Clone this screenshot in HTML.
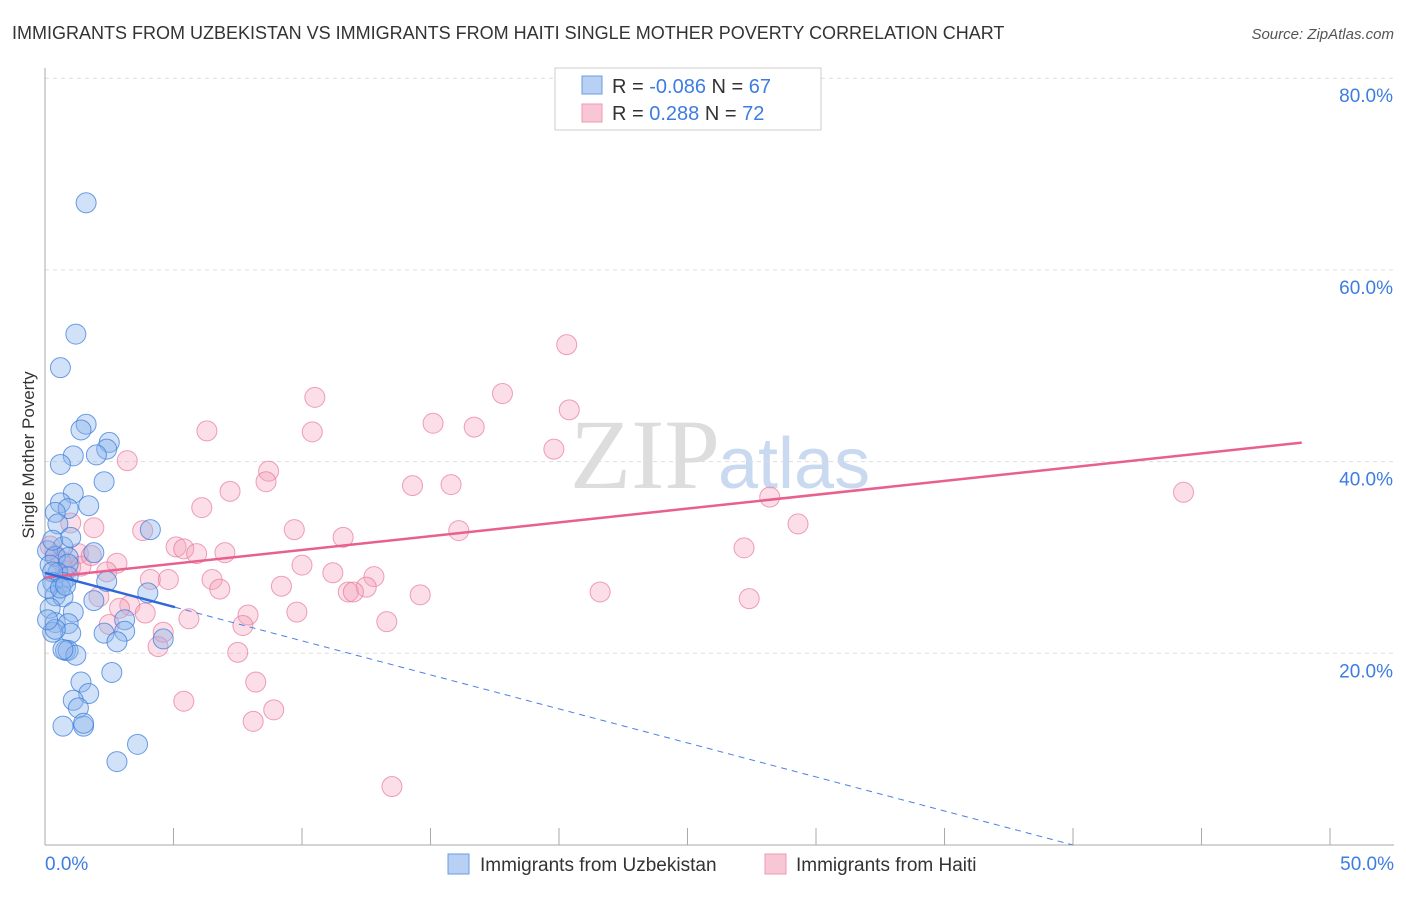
<!DOCTYPE html>
<html><head><meta charset="utf-8"><style>
body{margin:0;background:#fff;font-family:"Liberation Sans",sans-serif;}
#wrap{position:relative;width:1406px;height:892px;}
</style></head><body>
<div id="wrap">
<svg id="svg" width="1406" height="892" xmlns="http://www.w3.org/2000/svg">
<text x="12" y="39" font-size="18" fill="#333">IMMIGRANTS FROM UZBEKISTAN VS IMMIGRANTS FROM HAITI SINGLE MOTHER POVERTY CORRELATION CHART</text>
<text x="1394" y="39" font-size="15" fill="#555" font-style="italic" text-anchor="end">Source: ZipAtlas.com</text>
<text x="34" y="455" font-size="17" fill="#333" text-anchor="middle" transform="rotate(-90 34 455)">Single Mother Poverty</text>
<text x="720" y="488" font-size="100" fill="#ddd" text-anchor="end" font-family="Liberation Serif,serif">ZIP</text>
<text x="718" y="488" font-size="72" fill="#c9d9ef">atlas</text>
<g id="grid"></g><g id="pts"></g><g id="lines"></g>
<g>
<rect x="555" y="68" width="266" height="62" fill="#fff" stroke="#ccc"/>
<rect x="582" y="76" width="20" height="18" fill="#b7d0f3" stroke="#6a9ee6"/>
<rect x="582" y="104" width="20" height="18" fill="#f9c6d5" stroke="#ee9ab5"/>
<text x="612" y="93" font-size="20" fill="#333">R = <tspan fill="#3d7de0">-0.086</tspan>   N = <tspan fill="#3d7de0">67</tspan></text>
<text x="612" y="120" font-size="20" fill="#333">R =   <tspan fill="#3d7de0">0.288</tspan>   N = <tspan fill="#3d7de0">72</tspan></text>
</g>
<g>
<rect x="448" y="854" width="21" height="20" fill="#b7d0f3" stroke="#6a9ee6"/>
<text x="480" y="871" font-size="19" fill="#333">Immigrants from Uzbekistan</text>
<rect x="765" y="854" width="21" height="20" fill="#f9c6d5" stroke="#ee9ab5"/>
<text x="796" y="871" font-size="19" fill="#333">Immigrants from Haiti</text>
</g>
</svg></div>
<script>
const yTicks=[20,40,60,80];
const xTickLabels=["0.0%","50.0%"];
const blueX=[1.6,1.2,0.6,1.6,1.4,2.5,2.4,2.0,1.1,0.6,2.3,1.1,0.6,1.7,0.9,0.4,0.5,4.1,0.7,1.9,0.1,0.4,0.9,0.2,0.9,0.5,0.9,2.4,0.7,0.3,1.9,4.0,0.4,0.7,0.2,1.1,0.4,3.1,0.9,1.0,0.3,2.3,3.1,2.8,4.6,0.8,0.9,1.2,0.7,2.6,1.4,1.7,1.1,1.3,0.7,1.5,1.5,3.6,2.8,0.3,0.1,0.4,0.1,0.6,0.3,1.0,0.8];
const blueY=[67.0,53.3,49.8,43.9,43.3,42.0,41.3,40.7,40.6,39.7,37.9,36.7,35.7,35.4,35.1,34.7,33.5,32.9,31.1,30.5,30.7,30.1,30.0,29.2,29.3,28.4,28.0,27.5,27.4,27.4,25.5,26.3,26.0,25.9,24.7,24.3,23.2,23.5,23.1,22.1,22.2,22.1,22.3,21.2,21.5,20.3,20.3,19.8,20.4,18.0,17.0,15.8,15.1,14.3,12.4,12.4,12.7,10.5,8.7,28.5,26.8,22.5,23.5,26.8,31.8,32.1,27.1];
const pinkX=[20.3,17.8,10.5,20.4,15.1,16.7,6.3,10.4,19.8,3.2,8.7,8.6,7.2,14.3,15.8,6.1,44.3,28.2,29.3,1.0,1.9,16.1,9.7,3.8,11.6,5.1,5.4,5.9,7.0,27.2,1.3,2.8,10.0,2.4,4.1,4.8,6.5,12.8,11.2,9.2,6.8,12.5,11.8,12.0,14.6,21.6,27.4,2.1,3.3,2.9,7.9,9.8,5.6,3.9,7.7,13.3,2.5,4.6,4.4,7.5,8.2,5.4,8.9,8.1,13.5,0.6,0.4,0.2,0.8,1.0,1.4,1.8];
const pinkY=[52.2,47.1,46.7,45.4,44.0,43.6,43.2,43.1,41.3,40.1,39.0,37.9,36.9,37.5,37.6,35.2,36.8,36.3,33.5,33.6,33.1,32.8,32.9,32.8,32.1,31.1,30.9,30.4,30.5,31.0,30.4,29.4,29.2,28.5,27.7,27.7,27.7,28.0,28.4,27.0,26.7,26.9,26.4,26.4,26.1,26.4,25.7,25.9,25.0,24.7,24.0,24.3,23.6,24.2,22.9,23.3,23.0,22.2,20.7,20.1,17.0,15.0,14.1,12.9,6.1,29.7,30.2,31.2,28.6,29.0,29.1,30.2];
const pinkTrend=[27.9,0.288];
const blueTrend=[28.4,-0.71];
const NS='http://www.w3.org/2000/svg';
const X=v=>45+v*25.7, Y=v=>845-v*9.585;
function mk(t,a,p){const e=document.createElementNS(NS,t);for(const k in a)e.setAttribute(k,a[k]);p.appendChild(e);return e;}
const grid=document.getElementById('grid');
for(const t of yTicks){
 const l=mk('line',{x1:45,x2:1394,y1:Y(t),y2:Y(t),stroke:'#ddd','stroke-dasharray':'4 4'},grid);
 
 
 const tx=mk('text',{x:1393,y:Y(t)+24,'font-size':19,fill:'#3d7de0','text-anchor':'end'},grid);
 tx.textContent=t.toFixed(1)+'%';
 
 
}
const ax=mk('line',{x1:45,x2:45,y1:68,y2:845,stroke:'#aaa'},grid);


const bx=mk('line',{x1:45,x2:1394,y1:845,y2:845,stroke:'#aaa'},grid);


for(let i=0;i<=10;i++){const tk=mk('line',{x1:X(i*5),x2:X(i*5),y1:828,y2:845,stroke:'#aaa'},grid);
 
 }
[[0,'start',45],[50,'end',1394]].forEach((d,i)=>{const t=mk('text',{x:d[2],y:870,'font-size':19,fill:'#3d7de0','text-anchor':d[1]},grid);t.textContent=xTickLabels[i];
 
 });
const pts=document.getElementById('pts');
pinkX.forEach((x,i)=>{const c=mk('circle',{cx:X(x),cy:Y(pinkY[i]),r:10,fill:'rgba(244,160,186,0.35)',stroke:'rgba(232,120,155,0.7)'},pts);
 
 });
blueX.forEach((x,i)=>{const c=mk('circle',{cx:X(x),cy:Y(blueY[i]),r:10,fill:'rgba(140,180,235,0.4)',stroke:'rgba(60,125,220,0.75)'},pts);
 
 });
const lines=document.getElementById('lines');
const pl=mk('line',{x1:X(0),y1:Y(pinkTrend[0]),x2:X(48.9),y2:Y(pinkTrend[0]+pinkTrend[1]*48.9),stroke:'#e8608e','stroke-width':2.5},lines);


const bs=mk('line',{x1:X(0),y1:Y(blueTrend[0]),x2:X(5.06),y2:Y(blueTrend[0]+blueTrend[1]*5.06),stroke:'#3068d8','stroke-width':2.5},lines);


const xe=-blueTrend[0]/blueTrend[1];
const bd=mk('line',{x1:X(5.06),y1:Y(blueTrend[0]+blueTrend[1]*5.06),x2:X(xe),y2:Y(0),stroke:'#4a80e0','stroke-width':1,'stroke-dasharray':'6 5'},lines);


</script>
</body></html>
